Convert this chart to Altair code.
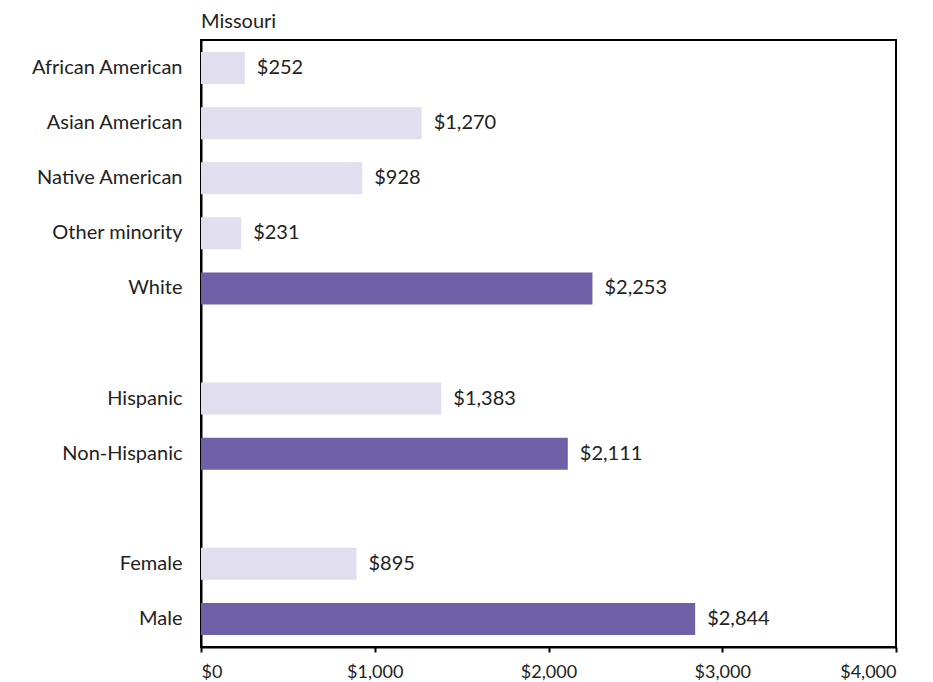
import altair as alt
import pandas as pd

categories = ["African American", "Asian American", "Native American", "Other minority", "White",
              "Hispanic", "Non-Hispanic", "Female", "Male"]
values = [252, 1270, 928, 231, 2253, 1383, 2111, 895, 2844]
highlight = [False, False, False, False, True, False, True, False, True]
domain_order = ["African American", "Asian American", "Native American", "Other minority", "White", " ",
                "Hispanic", "Non-Hispanic", "  ", "Female", "Male"]
x_ticks = [0, 1000, 2000, 3000, 4000]

df = pd.DataFrame({
    "category": categories,
    "value": values,
    "group": ["dark" if h else "light" for h in highlight],
    "label": ["$" + format(v, ",") for v in values],
})

FONT = "Lato"

y_enc = alt.Y("category:N", sort=domain_order,
              scale=alt.Scale(domain=domain_order, paddingInner=0.42, paddingOuter=0.22),
              axis=alt.Axis(title=None, ticks=False, labelPadding=19, labelFontSize=20,
                            labelFont=FONT, labelColor="#222222", domainColor="black",
                            domainWidth=2, labelLimit=300))
x_enc = alt.X("value:Q", scale=alt.Scale(domain=[0, 4000], nice=False),
              axis=alt.Axis(title=None, values=x_ticks, format="$,.0f", grid=False,
                            tickColor="black", tickSize=5, tickWidth=2, domainColor="black",
                            domainWidth=2, labelFontSize=18, labelFont=FONT, labelColor="#222222",
                            labelPadding=11))

bars = alt.Chart(df).mark_bar().encode(
    x=x_enc,
    y=y_enc,
    color=alt.Color("group:N", scale=alt.Scale(domain=["light", "dark"], range=["#E0DEEF", "#7060A8"]),
                    legend=None),
)

text = alt.Chart(df).mark_text(align="left", baseline="middle", dx=12, fontSize=20, font=FONT,
                               color="#222222").encode(
    x="value:Q",
    y=alt.Y("category:N", sort=domain_order),
    text="label:N",
)

chart = (bars + text).properties(
    width=695, height=607,
    title=alt.TitleParams("Missouri", anchor="start", frame="group", fontSize=20, font=FONT,
                          fontWeight="normal", color="#222222", offset=8),
    autosize=alt.AutoSizeParams(type="none"),
    padding={"left": 193, "top": 32, "right": 27, "bottom": 35},
).configure_view(stroke="black", strokeWidth=2)

chart.save("out.html", embed_options={"renderer": "svg", "actions": False})
